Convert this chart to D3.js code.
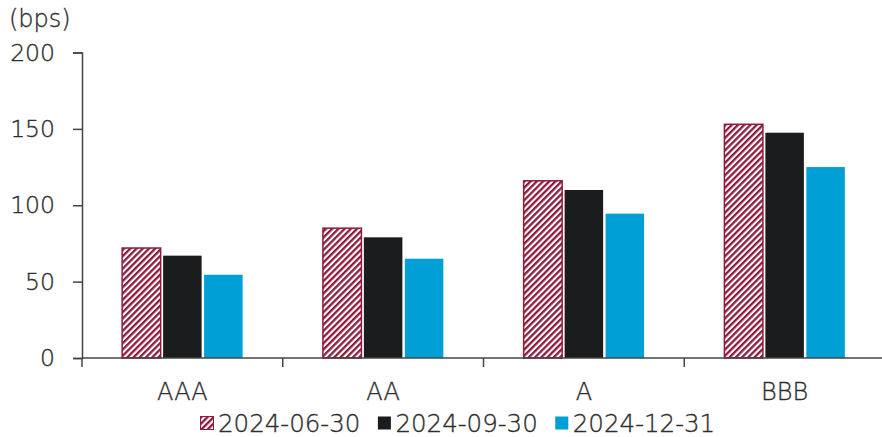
<!DOCTYPE html>
<html>
<head>
<meta charset="utf-8">
<script src="https://cdn.jsdelivr.net/npm/d3@7"></script>
<style>
  html, body { margin: 0; padding: 0; background: #fff; }
  svg { display: block; }
  text {
    font-family: "DejaVu Sans", sans-serif; font-weight: 200;
    fill: #2e2e2e; stroke: #2e2e2e; stroke-width: 0.35px;
  }
</style>
</head>
<body>
<svg id="chart" width="882" height="437"></svg>
<script>
// Credit spread by rating bucket, three quarter-end snapshots (bps)
const ratings = ["AAA", "AA", "A", "BBB"];
const seriesNames = ["2024-06-30", "2024-09-30", "2024-12-31"];
const jun30 = [72, 85, 116, 153];
const sep30 = [67, 79, 110, 147.5];
const dec31 = [54.5, 65, 94.5, 125];
const yTicks = [0, 50, 100, 150, 200];
const unitLabel = "(bps)";

const seriesValues = [jun30, sep30, dec31];
const colors = ["url(#hatch)", "#1b1c1e", "#009fd6"];
const maroon = "#8e1b3c";
const axisColor = "#444";

const svg = d3.select("#chart");
const width = 882, height = 437;
const margin = { left: 82, right: -3, top: 52.5, bottom: 79 };
const x0Range = [margin.left, width - margin.right];
const yBase = height - margin.bottom;

// diagonal hatch used for the first series
const defs = svg.append("defs");
const pat = defs.append("pattern")
  .attr("id", "hatch")
  .attr("patternUnits", "userSpaceOnUse")
  .attr("width", 4.4)
  .attr("height", 4.4)
  .attr("patternTransform", "rotate(45)");
pat.append("rect").attr("width", 4.4).attr("height", 4.4).attr("fill", "#fff");
pat.append("rect").attr("width", 2.3).attr("height", 4.4).attr("fill", maroon);

const x0 = d3.scaleBand().domain(ratings).range(x0Range)
  .paddingInner(0.4).paddingOuter(0.2);
const x1 = d3.scaleBand().domain(d3.range(seriesNames.length))
  .range([0, x0.bandwidth()]).paddingInner(0.06).paddingOuter(0);
const y = d3.scaleLinear().domain([0, 200]).range([yBase, margin.top]);

// bars
const groups = svg.append("g").selectAll("g")
  .data(ratings)
  .join("g")
  .attr("transform", d => `translate(${x0(d)},0)`);

groups.selectAll("rect")
  .data((r, i) => seriesValues.map((vals, s) => ({ s, v: vals[i] })))
  .join("rect")
  .attr("x", d => x1(d.s))
  .attr("width", x1.bandwidth())
  .attr("y", d => y(d.v))
  .attr("height", d => yBase - y(d.v))
  .attr("fill", d => colors[d.s])
  .attr("stroke", d => d.s === 0 ? maroon : "none")
  .attr("stroke-width", 1.5);

// y axis
const yAxis = svg.append("g")
  .attr("transform", `translate(${margin.left},0)`)
  .call(d3.axisLeft(y).tickValues(yTicks).tickSize(9).tickPadding(18));
yAxis.attr("font-family", null).attr("font-size", null);
yAxis.select(".domain").attr("stroke", axisColor).attr("stroke-width", 1.5);
yAxis.selectAll(".tick line").attr("stroke", axisColor).attr("stroke-width", 1.5);
yAxis.selectAll(".tick text")
  .attr("fill", null)
  .style("font-size", "23.5px");

// x axis (ticks at band boundaries)
const boundaries = ratings.map(r => x0(r) - x0.step() * x0.paddingInner() / 2);
const xAxisG = svg.append("g").attr("transform", `translate(0,${yBase})`);
xAxisG.append("line")
  .attr("x1", margin.left).attr("x2", width)
  .attr("stroke", axisColor).attr("stroke-width", 1.5);
xAxisG.selectAll("line.tick")
  .data(boundaries)
  .join("line")
  .attr("class", "tick")
  .attr("x1", d => d).attr("x2", d => d)
  .attr("y1", 0).attr("y2", 9)
  .attr("stroke", axisColor).attr("stroke-width", 1.5);
xAxisG.selectAll("text")
  .data(ratings)
  .join("text")
  .attr("x", d => x0(d) + x0.bandwidth() / 2)
  .attr("y", 42)
  .attr("text-anchor", "middle")
  .style("font-size", "24px")
  .text(d => d);

svg.append("text")
  .attr("x", 9).attr("y", 27)
  .style("font-size", "24px")
  .text(unitLabel);

// legend
const legend = svg.append("g").attr("transform", "translate(200,423)");
let lx = 0;
seriesNames.forEach((name, i) => {
  const g = legend.append("g").attr("transform", `translate(${lx},0)`);
  g.append("rect")
    .attr("x", 0.5).attr("y", -6.5).attr("width", 13).attr("height", 13)
    .attr("fill", colors[i])
    .attr("stroke", i === 0 ? maroon : "none")
    .attr("stroke-width", 1);
  const t = g.append("text")
    .attr("x", 18).attr("y", 0)
    .attr("dy", "0.36em")
    .style("font-size", "24.5px")
    .text(name);
  lx += 18 + t.node().getComputedTextLength() + 17;
});
</script>
</body>
</html>
